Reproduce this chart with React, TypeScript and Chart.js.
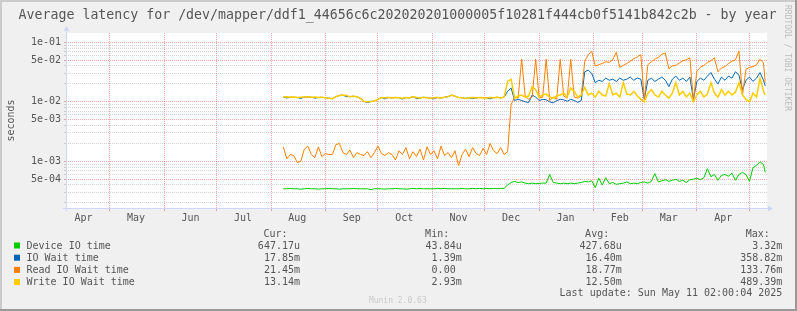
import React, { useEffect, useRef } from 'react';
import { Chart, registerables } from 'chart.js';

Chart.register(...registerables);

// ---- data (x = days since 2024-04-06, values in milliseconds) ----
const DAYS = [
  124, 126, 128, 130, 132, 134, 136, 138, 140, 142,
  144, 146, 148, 150, 152, 154, 156, 158, 160, 162,
  164, 166, 168, 170, 172, 174, 176, 178, 180, 182,
  184, 186, 188, 190, 192, 194, 196, 198, 200, 202,
  204, 206, 208, 210, 212, 214, 216, 218, 220, 222,
  224, 226, 228, 230, 232, 234, 236, 238, 240, 242,
  244, 246, 248, 250, 252, 254, 256, 258, 260, 262,
  264, 266, 268, 270, 272, 274, 276, 278, 280, 282,
  284, 286, 288, 290, 292, 294, 296, 298, 300, 302,
  304, 306, 308, 310, 312, 314, 316, 318, 320, 322,
  324, 326, 328, 330, 332, 334, 336, 338, 340, 342,
  344, 346, 348, 350, 352, 354, 356, 358, 360, 362,
  364, 366, 368, 370, 372, 374, 376, 378, 380, 382,
  384, 386, 388, 390, 392, 394, 396, 398, 399,
];

const DEVICE_IO_MS = [
  0.345, 0.345, 0.350, 0.345, 0.345, 0.340, 0.345, 0.350, 0.345, 0.345,
  0.340, 0.345, 0.345, 0.350, 0.345, 0.345, 0.340, 0.345, 0.345, 0.345,
  0.350, 0.345, 0.345, 0.345, 0.345, 0.335, 0.345, 0.345, 0.345, 0.340,
  0.345, 0.345, 0.350, 0.345, 0.345, 0.340, 0.345, 0.350, 0.345, 0.350,
  0.345, 0.345, 0.345, 0.345, 0.350, 0.345, 0.350, 0.345, 0.345, 0.345,
  0.345, 0.350, 0.345, 0.345, 0.350, 0.345, 0.350, 0.345, 0.350, 0.345,
  0.350, 0.345, 0.350, 0.350, 0.400, 0.440, 0.460, 0.440, 0.450, 0.430,
  0.420, 0.430, 0.420, 0.425, 0.430, 0.430, 0.600, 0.440, 0.430, 0.420,
  0.430, 0.420, 0.430, 0.420, 0.430, 0.440, 0.460, 0.450, 0.470, 0.360,
  0.520, 0.400, 0.530, 0.420, 0.440, 0.410, 0.420, 0.430, 0.450, 0.420,
  0.430, 0.420, 0.440, 0.450, 0.430, 0.460, 0.620, 0.450, 0.470, 0.490,
  0.460, 0.480, 0.500, 0.460, 0.480, 0.440, 0.490, 0.500, 0.520, 0.490,
  0.530, 0.750, 0.550, 0.600, 0.480, 0.580, 0.600, 0.560, 0.630, 0.480,
  0.600, 0.650, 0.600, 0.460, 0.780, 0.850, 0.980, 0.880, 0.650,
];

const IO_WAIT_MS = [
  12.0, 11.6, 11.9, 11.9, 11.8, 11.4, 12.0, 12.0, 11.9, 11.5,
  11.8, 11.9, 11.7, 11.5, 11.3, 12.1, 12.8, 12.9, 12.2, 12.2,
  12.4, 12.1, 11.4, 10.2, 9.7, 10.1, 10.3, 11.0, 11.8, 11.2,
  11.8, 11.6, 11.8, 11.7, 11.1, 11.8, 11.6, 12.2, 11.3, 11.6,
  11.9, 11.7, 11.5, 11.2, 11.8, 11.6, 11.9, 12.2, 12.9, 12.4,
  11.8, 11.7, 11.4, 11.7, 11.3, 11.6, 11.8, 11.7, 11.6, 11.2,
  11.7, 11.9, 11.6, 12.0, 15.0, 17.0, 10.5, 11.0, 10.5, 10.0,
  9.7, 13.0, 12.0, 10.5, 11.0, 10.8, 10.0, 9.6, 10.5, 11.0,
  10.8, 10.2, 11.0, 10.5, 9.8, 10.5, 32.0, 34.0, 30.0, 21.0,
  23.0, 22.0, 25.0, 23.0, 24.0, 22.0, 25.0, 23.0, 24.0, 26.0,
  23.0, 25.0, 24.0, 11.0, 23.0, 25.0, 22.0, 24.0, 26.0, 23.0,
  18.0, 24.0, 27.0, 23.0, 25.0, 22.0, 26.0, 11.0, 22.0, 25.0,
  23.0, 27.0, 31.0, 24.0, 20.0, 26.0, 23.0, 27.0, 25.0, 32.0,
  28.0, 16.0, 23.0, 26.0, 22.0, 25.0, 31.0, 23.0, 18.5,
];

const READ_WAIT_MS = [
  1.75, 1.10, 1.30, 1.25, 0.95, 1.00, 1.60, 1.80, 1.30, 1.15,
  1.75, 1.20, 1.35, 1.30, 1.30, 1.90, 2.00, 1.40, 1.30, 1.55,
  1.15, 1.40, 1.30, 1.25, 1.45, 1.15, 1.40, 1.80, 1.35, 1.25,
  1.40, 1.30, 1.05, 1.50, 1.30, 1.70, 1.10, 1.45, 1.20, 1.60,
  1.05, 1.75, 1.30, 1.50, 1.10, 1.80, 1.25, 1.40, 1.15, 1.50,
  0.85, 1.30, 1.60, 1.20, 1.70, 1.35, 1.25, 1.65, 1.30, 2.00,
  1.50, 1.35, 1.70, 1.30, 1.45, 9.0, 12.0, 11.5, 52.0, 12.5,
  11.0, 12.0, 52.0, 11.5, 12.0, 52.0, 10.5, 12.0, 11.0, 52.0,
  12.5, 11.5, 52.0, 12.0, 11.5, 12.5, 48.0, 62.0, 70.0, 40.0,
  42.0, 44.0, 47.0, 46.0, 51.0, 68.0, 38.0, 41.0, 44.0, 48.0,
  53.0, 57.0, 62.0, 11.0, 42.0, 47.0, 52.0, 56.0, 63.0, 66.0,
  36.0, 40.0, 41.0, 45.0, 49.0, 51.0, 55.0, 10.5, 33.0, 38.0,
  41.0, 46.0, 49.0, 55.0, 32.0, 37.0, 39.0, 44.0, 48.0, 51.0,
  71.0, 13.0, 35.0, 38.0, 39.0, 42.0, 52.0, 45.0, 21.0,
];

const WRITE_WAIT_MS = [
  12.0, 12.1, 11.9, 12.0, 11.8, 11.9, 12.0, 12.1, 11.9, 12.0,
  11.8, 11.9, 11.7, 11.5, 11.3, 12.2, 12.8, 13.0, 12.8, 12.2,
  12.4, 12.2, 11.4, 10.2, 10.0, 10.1, 10.3, 11.0, 11.8, 11.7,
  11.8, 11.6, 11.8, 11.7, 11.5, 11.8, 11.6, 12.2, 11.8, 11.6,
  11.9, 11.7, 11.5, 11.7, 11.8, 11.6, 11.9, 12.2, 13.0, 12.4,
  11.8, 11.7, 11.4, 11.7, 11.8, 11.6, 11.8, 11.7, 11.6, 11.8,
  11.7, 11.9, 11.6, 12.0, 22.0, 24.0, 11.5, 12.5, 13.0, 12.0,
  12.5, 18.0, 16.0, 12.0, 13.0, 13.5, 12.0, 11.5, 12.5, 13.0,
  14.0, 12.0, 17.0, 15.0, 12.0, 13.0, 17.5, 13.0, 14.0, 12.0,
  15.0, 13.0, 12.5, 20.0, 13.0, 14.0, 12.0, 21.0, 13.5, 13.0,
  15.0, 12.5, 11.0, 10.0, 14.0, 16.0, 13.0, 12.0, 15.0, 13.0,
  11.5, 14.0, 21.0, 13.0, 15.0, 12.0, 14.0, 10.0, 13.0, 15.0,
  12.0, 13.5, 21.0, 14.0, 12.0, 16.0, 13.0, 15.0, 13.0, 14.5,
  21.0, 13.0, 11.0, 10.0, 14.0, 12.0, 25.0, 15.0, 13.0,
];

const SERIES_NAMES = ['Device IO time', 'IO Wait time', 'Read IO Wait time', 'Write IO Wait time'];
const SERIES_COLORS = ['#00cc00', '#0066b3', '#ff8000', '#ffcc00'];
const SERIES_WIDTHS = [1, 1, 1, 1.5];
const CUR = ['647.17u', '17.85m', '21.45m', '13.14m'];
const MIN = ['43.84u', '1.39m', '0.00 ', '2.93m'];
const AVG = ['427.68u', '16.40m', '18.77m', '12.50m'];
const MAX = ['3.32m', '358.82m', '133.76m', '489.39m'];
const COLUMN_HEADERS = ['Cur:', 'Min:', 'Avg:', 'Max:'];

const MONTH_START_DAYS = [25, 56, 86, 117, 148, 178, 209, 239, 270, 301, 329, 360, 390];
const MONTH_LABEL_DAYS = [10, 40, 71, 101, 132, 163, 193, 224, 254, 285, 316, 344, 375];
const MONTH_LABELS = ['Apr', 'May', 'Jun', 'Jul', 'Aug', 'Sep', 'Oct', 'Nov', 'Dec', 'Jan', 'Feb', 'Mar', 'Apr'];

const Y_GRID = [
  2e-4, 3e-4, 4e-4, 5e-4, 6e-4, 7e-4, 8e-4, 9e-4,
  1e-3, 2e-3, 3e-3, 4e-3, 5e-3, 6e-3, 7e-3, 8e-3, 9e-3,
  1e-2, 2e-2, 3e-2, 4e-2, 5e-2, 6e-2, 7e-2, 8e-2, 9e-2,
  1e-1,
];
const Y_LABEL_VALUES = [5e-4, 1e-3, 5e-3, 1e-2, 5e-2, 1e-1];
const Y_LABELS = ['5e-04', '1e-03', '5e-03', '1e-02', '5e-02', '1e-01'];

const TITLE = 'Average latency for /dev/mapper/ddf1_44656c6c202020201000005f10281f444cb0f5141b842c2b - by year';
const LAST_UPDATE = 'Last update: Sun May 11 02:00:04 2025';
const WATERMARK = 'Munin 2.0.63';
const SIDE_TEXT = 'RRDTOOL / TOBI OETIKER';

// ---- styles ----
const MONO = '"DejaVu Sans Mono", monospace';
const FONT_COLOR = '#555555';
const GRID_GRAY = 'rgba(143,143,143,0.38)';
const GRID_RED = 'rgba(233,94,94,0.55)';
const AXIS_COLOR = '#cfd6f8';
const W = 797;
const H = 311;

const near = (a: number, b: number) => Math.abs(a - b) <= Math.abs(b) * 1e-6;

const muninPlugin = {
  id: 'muninFrame',
  beforeDraw(chart: any) {
    const { ctx, chartArea: a } = chart;
    ctx.save();
    ctx.fillStyle = '#f0f0f0';
    ctx.fillRect(0, 0, W, H);
    ctx.fillStyle = '#ffffff';
    ctx.fillRect(a.left, a.top, a.right - a.left, a.bottom - a.top);
    ctx.fillStyle = '#cbcbcb';
    ctx.fillRect(0, 0, W, 2);
    ctx.fillRect(0, 0, 2, H);
    ctx.fillStyle = '#999999';
    ctx.fillRect(0, H - 2, W, 2);
    ctx.fillRect(W - 2, 0, 2, H);
    ctx.restore();
  },
  afterDraw(chart: any) {
    const { ctx, chartArea: a } = chart;
    ctx.save();
    // axes
    ctx.strokeStyle = AXIS_COLOR;
    ctx.lineWidth = 1;
    ctx.beginPath();
    ctx.moveTo(a.left + 0.5, a.bottom + 3);
    ctx.lineTo(a.left + 0.5, a.top - 2);
    ctx.moveTo(a.left - 3, a.bottom + 0.5);
    ctx.lineTo(a.right + 2, a.bottom + 0.5);
    ctx.stroke();
    ctx.fillStyle = AXIS_COLOR;
    ctx.beginPath();
    ctx.moveTo(a.left - 2.5, a.top - 2);
    ctx.lineTo(a.left + 0.5, a.top - 7);
    ctx.lineTo(a.left + 3.5, a.top - 2);
    ctx.closePath();
    ctx.fill();
    ctx.beginPath();
    ctx.moveTo(a.right + 1, a.bottom - 2.5);
    ctx.lineTo(a.right + 6, a.bottom + 0.5);
    ctx.lineTo(a.right + 1, a.bottom + 3.5);
    ctx.closePath();
    ctx.fill();

    // title
    ctx.fillStyle = FONT_COLOR;
    ctx.font = `13.25px ${MONO}`;
    ctx.textAlign = 'center';
    ctx.textBaseline = 'alphabetic';
    ctx.fillText(TITLE, 397.5, 18.5);

    // legend
    ctx.font = `10px ${MONO}`;
    const colRight = [300, 461.7, 621.7, 782.3];
    ctx.textAlign = 'right';
    COLUMN_HEADERS.forEach((h, i) => ctx.fillText(h, colRight[i] - 12.5, 236.6));
    const rowBase = [248.5, 260.7, 272.9, 285.1];
    SERIES_NAMES.forEach((name, r) => {
      ctx.fillStyle = SERIES_COLORS[r];
      ctx.fillRect(14, rowBase[r] - 6, 6, 6);
      ctx.fillStyle = FONT_COLOR;
      ctx.textAlign = 'left';
      ctx.fillText(name, 26.5, rowBase[r]);
      ctx.textAlign = 'right';
      ctx.fillText(CUR[r], colRight[0], rowBase[r]);
      ctx.fillText(MIN[r], colRight[1], rowBase[r]);
      ctx.fillText(AVG[r], colRight[2], rowBase[r]);
      ctx.fillText(MAX[r], colRight[3], rowBase[r]);
    });
    ctx.fillText(LAST_UPDATE, colRight[3], 295.8);

    // watermark
    ctx.fillStyle = '#c8c8c8';
    ctx.font = `8px ${MONO}`;
    ctx.textAlign = 'center';
    ctx.fillText(WATERMARK, 397.8, 302.5);

    // side text
    ctx.fillStyle = '#bbbbbb';
    ctx.translate(786.7, 5);
    ctx.rotate(Math.PI / 2);
    ctx.textAlign = 'left';
    ctx.textBaseline = 'middle';
    ctx.fillText(SIDE_TEXT, 0, 0);
    ctx.restore();
  },
};

export default function App() {
  const ref = useRef<HTMLCanvasElement>(null);

  useEffect(() => {
    const canvas = ref.current;
    if (!canvas) return;
    const series = [DEVICE_IO_MS, IO_WAIT_MS, READ_WAIT_MS, WRITE_WAIT_MS];
    const orders = [3, 2, 1, 0];
    const chart = new Chart(canvas, {
      type: 'line',
      data: {
        datasets: series.map((arr, s) => ({
          label: SERIES_NAMES[s],
          data: DAYS.map((d, i) => ({ x: d, y: arr[i] / 1000 })),
          borderColor: SERIES_COLORS[s],
          backgroundColor: SERIES_COLORS[s],
          borderWidth: SERIES_WIDTHS[s],
          pointRadius: 0,
          tension: 0,
          fill: false,
          order: orders[s],
        })),
      },
      options: {
        responsive: false,
        animation: false,
        devicePixelRatio: 1,
        events: [],
        layout: { padding: { left: 0, top: 33, right: 30, bottom: 0 } },
        plugins: {
          legend: { display: false },
          title: { display: false },
          tooltip: { enabled: false },
        },
        scales: {
          x: {
            type: 'linear',
            min: 0,
            max: 400,
            bounds: 'data',
            afterBuildTicks: (scale: any) => {
              const vals = [...MONTH_START_DAYS, ...MONTH_LABEL_DAYS].sort((p, q) => p - q);
              scale.ticks = vals.map((v) => ({ value: v }));
            },
            afterFit: (scale: any) => {
              scale.height = 103;
            },
            grid: {
              color: (c: any) => (c.tick && MONTH_START_DAYS.includes(c.tick.value) ? GRID_RED : 'rgba(0,0,0,0)'),
              tickColor: (c: any) => (c.tick && MONTH_START_DAYS.includes(c.tick.value) ? GRID_RED : 'rgba(0,0,0,0)'),
              drawTicks: true,
              tickLength: 3,
              lineWidth: 1,
            },
            border: { display: false, dash: [1, 1] },
            ticks: {
              autoSkip: false,
              maxRotation: 0,
              minRotation: 0,
              padding: 1,
              color: FONT_COLOR,
              font: { family: MONO, size: 10 },
              callback: (value: any) => {
                const i = MONTH_LABEL_DAYS.indexOf(Number(value));
                return i >= 0 ? MONTH_LABELS[i] : '';
              },
            },
          },
          y: {
            type: 'logarithmic',
            min: 1.64e-4,
            max: 0.1433,
            bounds: 'data',
            afterBuildTicks: (scale: any) => {
              scale.ticks = Y_GRID.map((v) => ({ value: v }));
            },
            afterFit: (scale: any) => {
              scale.width = 66;
            },
            grid: {
              color: (c: any) => (c.tick && Y_LABEL_VALUES.some((v) => near(c.tick.value, v)) ? GRID_RED : GRID_GRAY),
              tickColor: (c: any) => (c.tick && Y_LABEL_VALUES.some((v) => near(c.tick.value, v)) ? GRID_RED : GRID_GRAY),
              drawTicks: true,
              tickLength: 2,
              lineWidth: 1,
            },
            border: { display: false, dash: [1, 1] },
            title: {
              display: true,
              text: 'seconds',
              color: FONT_COLOR,
              font: { family: MONO, size: 10 },
              padding: { top: 5, bottom: 0 },
            },
            ticks: {
              autoSkip: false,
              padding: 3,
              color: FONT_COLOR,
              font: { family: MONO, size: 10 },
              callback: (value: any) => {
                const i = Y_LABEL_VALUES.findIndex((v) => near(Number(value), v));
                return i >= 0 ? Y_LABELS[i] : '';
              },
            },
          },
        },
      },
      plugins: [muninPlugin],
    } as any);
    return () => chart.destroy();
  }, []);

  return (
    <div style={{ position: 'fixed', left: 0, top: 0, width: W, height: H, background: '#f0f0f0' }}>
      <canvas ref={ref} width={W} height={H} style={{ display: 'block', width: W, height: H }} />
    </div>
  );
}
